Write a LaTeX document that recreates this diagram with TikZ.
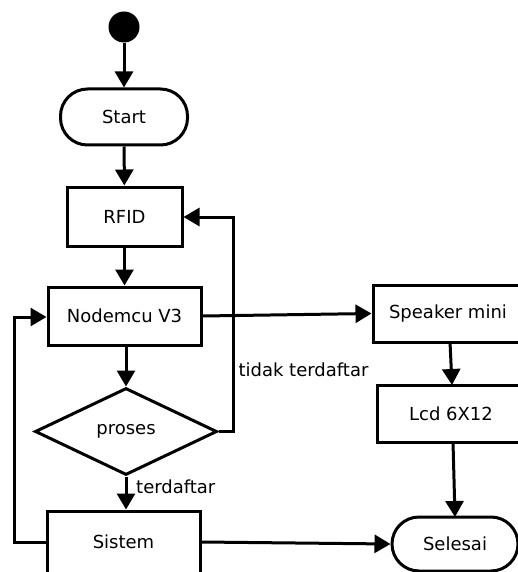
\documentclass[tikz,border=0pt]{standalone}
\usepackage{fontspec}
\setmainfont{DejaVu Sans}
\usetikzlibrary{arrows.meta,shapes.geometric}
\begin{document}
\begin{tikzpicture}[x=1pt,y=-1pt,
  every node/.style={font=\fontsize{18}{21}\selectfont},
  box/.style={draw,line width=3pt,rectangle,inner sep=0pt},
  term/.style={draw,line width=3pt,rectangle,rounded corners=27pt,inner sep=0pt},
  dec/.style={draw,line width=3pt,diamond,aspect=2.1,inner sep=0pt},
  conn/.style={line width=3pt,-{Triangle[length=16pt,width=18pt]}},
  line/.style={line width=3pt}]
\useasboundingbox (0,0) rectangle (518,572);
\clip (0,0) rectangle (518,572);
\fill[white] (0,0) rectangle (518,572);
\node[circle,fill=black,minimum size=31pt,inner sep=0pt] (init) at (124,27) {};
\node[term,minimum width=127pt,minimum height=56pt] (start) at (124,117) {Start};
\node[box,minimum width=115pt,minimum height=59pt] (rfid) at (124.5,216.5) {RFID};
\node[box,minimum width=153pt,minimum height=58pt] (node) at (124.5,316) {Nodemcu V3};
\node[dec,minimum width=182pt,minimum height=87pt] (dec) at (126,431.5) {proses};
\node[box,minimum width=153pt,minimum height=62pt] (sis) at (123.5,542) {Sistem};
\node[box,minimum width=150pt,minimum height=57pt] (spk) at (448,313.5) {Speaker mini};
\node[box,minimum width=148pt,minimum height=57pt] (lcd) at (451,413.5) {Lcd 6X12};
\node[term,minimum width=126pt,minimum height=54pt] (sel) at (455,544) {Selesai};
\node[anchor=west,inner sep=0pt] (lt) at (136,487) {terdaftar};
\node[inner sep=0pt] (ltt) at (303.5,370) {tidak terdaftar};
\coordinate (c1) at (233,431.5);
\coordinate (c2) at (233,217);
\coordinate (c3) at (14,542);
\coordinate (c4) at (14,317);
\draw[conn] (init) -- (start);
\draw[conn] (start) -- (rfid);
\draw[conn] (rfid) -- (node);
\draw[conn] (node.south -| dec.north) -- (dec.north);
\draw[conn] (dec.south) -- (dec.south |- sis.north);
\draw[conn] (dec.east) -- (c1) -- (c2) -- (rfid.east |- c2);
\draw[conn] (sis.west |- c3) -- (c3) -- (c4) -- (node.west |- c4);
\draw[conn] (node.east) -- (spk.west);
\draw[conn] (450,342) -- (452,385);
\draw[conn] (453,442) -- (455,517);
\draw[conn] (sis.east) -- (sel.west);
\end{tikzpicture}
\end{document}
